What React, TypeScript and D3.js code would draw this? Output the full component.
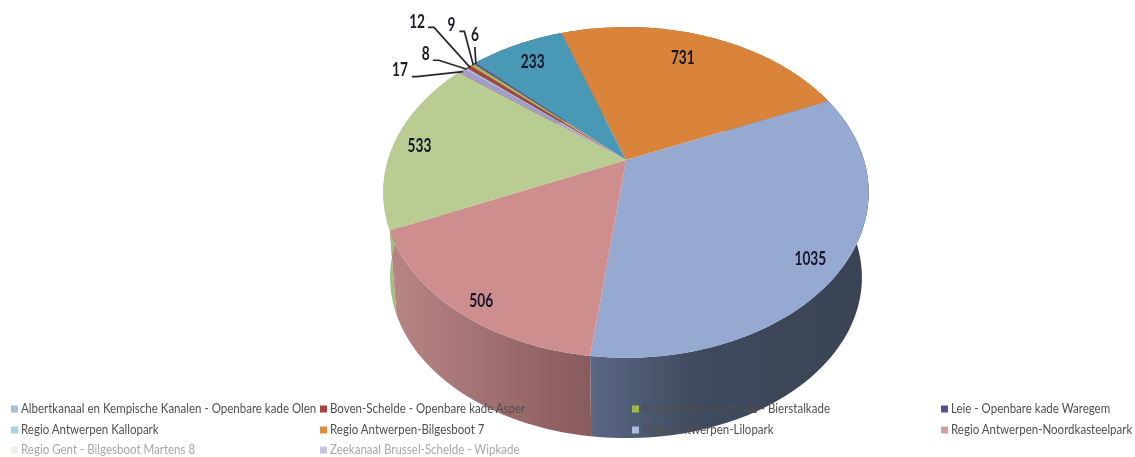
import React from "react";
import * as d3 from "d3";

const categories = [
  "Albertkanaal en Kempische Kanalen - Openbare kade Olen",
  "Boven-Schelde - Openbare kade Asper",
  "Kanaal Gent-Oostende - Bierstalkade",
  "Leie - Openbare kade Waregem",
  "Regio Antwerpen Kallopark",
  "Regio Antwerpen-Bilgesboot 7",
  "Regio Antwerpen-Lilopark",
  "Regio Antwerpen-Noordkasteelpark",
  "Regio Gent - Bilgesboot Martens 8",
  "Zeekanaal Brussel-Schelde - Wipkade",
];
const values = [8, 12, 9, 6, 233, 731, 1035, 506, 533, 17];
const sliceColors = ["#a9bdd6", "#b0403c", "#a7bd55", "#6a4f9a", "#4898b6", "#da833b", "#95a9d1", "#cf8e8e", "#b9cd93", "#a99cca"];
const legendColors = ["#a9bdd6", "#b0403c", "#9cba45", "#5f4a92", "#a5d3e2", "#e08a3c", "#a9bde0", "#dc9c9c", "#eef2e4", "#c9c2dc"];

const WIDTH = 1135, HEIGHT = 457;
const CX = 626, APEX_Y = 160, A = 238, B = 159, K = 0.196, DEPTH = 85, BOTTOM_SCALE = 0.972;
const START = (310 * Math.PI) / 180;

type Pt = [number, number];
const project = (theta: number, r = 1): Pt => {
  const w = 1 + K * r * Math.cos(theta);
  return [CX + (A * r * Math.sin(theta)) / w, APEX_Y - (B * r * Math.cos(theta)) / w];
};
const CENTER_Y = 192.5;
const projectBottom = (theta: number): Pt => {
  const [x, y] = project(theta);
  return [CX + (x - CX) * BOTTOM_SCALE, CENTER_Y + DEPTH + (y - CENTER_Y) * BOTTOM_SCALE];
};
const arcsData = d3.pie<number>().sort(null).startAngle(START).endAngle(START + 2 * Math.PI)(values);
const line = d3.line<Pt>();
const samples = (a0: number, a1: number) => d3.range(0, 61).map((i) => a0 + ((a1 - a0) * i) / 60);

const topPath = (a0: number, a1: number) =>
  line([project(0, 0), ...samples(a0, a1).map((t) => project(t))])! + "Z";
const wallPath = (a0: number, a1: number) => {
  const s = samples(a0, a1);
  return line([...s.map((t) => project(t)), ...s.slice().reverse().map(projectBottom)])! + "Z";
};

// index -> label placement on the disk: angle shift (deg), radial fraction
const inLabels: Record<number, [number, number]> = {
  4: [-0.5, 0.82],
  5: [-3.2, 0.775],
  6: [2.6, 0.89],
  7: [-2.2, 0.92],
  8: [-1.8, 0.885],
};
// index -> callout: label offset and elbow offset from the slice rim
const callouts: Record<number, { label: Pt; elbow: Pt; anchor: string; stub: number }> = {
  9: { label: [-55, 0], elbow: [-46, 5], anchor: "end", stub: 5 },
  0: { label: [-37, -14], elbow: [-28, -9], anchor: "end", stub: 6 },
  1: { label: [-45, -44], elbow: [-36, -40], anchor: "end", stub: 6 },
  2: { label: [-18, -39], elbow: [-9, -34], anchor: "end", stub: 5 },
  3: { label: [-1, -28], elbow: [-1, -17], anchor: "middle", stub: 0 },
};
const legendCols = [11, 320, 632, 941];
const legendRows = [409, 430, 450];
const FONT = "Lato, 'Open Sans', sans-serif";
const LEGEND_SCALE_X = 0.823;
const NUM_SCALE_X = 0.76;

export default function App() {
  return (
    <svg width={WIDTH} height={HEIGHT} style={{ position: "absolute", left: 0, top: 0, background: "#fff" }}>
      <defs>
        <filter id="soft" x="-2%" y="-2%" width="104%" height="104%">
          <feGaussianBlur stdDeviation="0.55" />
        </filter>
        <linearGradient id="wallLilo" gradientUnits="userSpaceOnUse" x1="592" x2="870" y1="0" y2="0">
          <stop offset="0" stopColor="#5a6783" />
          <stop offset="0.38" stopColor="#3f4a5e" />
          <stop offset="1" stopColor="#394352" />
        </linearGradient>
        <linearGradient id="wallNoord" gradientUnits="userSpaceOnUse" x1="392" x2="592" y1="0" y2="0">
          <stop offset="0" stopColor="#b88584" />
          <stop offset="1" stopColor="#875a5c" />
        </linearGradient>
      </defs>
      <g filter="url(#soft)">
        {arcsData.map((d, i) => (
          <path key={"w" + i} d={wallPath(d.startAngle, d.endAngle)}
            fill={i === 6 ? "url(#wallLilo)" : i === 7 ? "url(#wallNoord)" : i === 8 ? "#a5bb80" : d3.color(sliceColors[i])!.darker(0.8).formatHex()} />
        ))}
        {arcsData.map((d, i) => (
          <path key={"t" + i} d={topPath(d.startAngle, d.endAngle)} fill={sliceColors[i]} />
        ))}
        {arcsData.map((d, i) => {
          const c = callouts[i];
          if (!c) return null;
          const mid = (d.startAngle + d.endAngle) / 2;
          const [rx, ry] = project(mid, 0.99);
          const lx = rx + c.label[0], ly = ry + c.label[1];
          const pts: Pt[] = [[rx, ry], [rx + c.elbow[0], ry + c.elbow[1]]];
          if (c.stub) pts.push([rx + c.elbow[0] - c.stub, ry + c.elbow[1]]);
          return (
            <g key={"c" + i}>
              <path d={line(pts)!} fill="none" stroke="#26262e" strokeWidth={1.7} />
              <text transform={`translate(${lx},${ly}) scale(${NUM_SCALE_X},1)`} textAnchor={c.anchor} dominantBaseline="middle" fontFamily={FONT} fontSize={18} fontWeight={700} fill="#1c1c28">{values[i]}</text>
            </g>
          );
        })}
        {arcsData.map((d, i) => {
          const l = inLabels[i];
          if (!l) return null;
          const [x, y] = project((d.startAngle + d.endAngle) / 2 + (l[0] * Math.PI) / 180, l[1]);
          return (
            <text key={"l" + i} transform={`translate(${x},${y}) scale(${NUM_SCALE_X},1)`} textAnchor="middle" dominantBaseline="middle" fontFamily={FONT} fontSize={18} fontWeight={700} fill="#15192c">{values[i]}</text>
          );
        })}
        {categories.map((c, i) => {
          const col = i % 4, row = Math.floor(i / 4);
          const x = legendCols[col], y = legendRows[row];
          return (
            <g key={"lg" + i}>
              <rect x={x} y={y - 3.5} width={7} height={7} fill={legendColors[i]} />
              <text transform={`translate(${x + 10},${y}) scale(${LEGEND_SCALE_X},1)`} dominantBaseline="middle" fontFamily={FONT} fontSize={14} fill={row === 2 ? "#a8a8a8" : "#505050"}>{c}</text>
            </g>
          );
        })}
      </g>
    </svg>
  );
}
